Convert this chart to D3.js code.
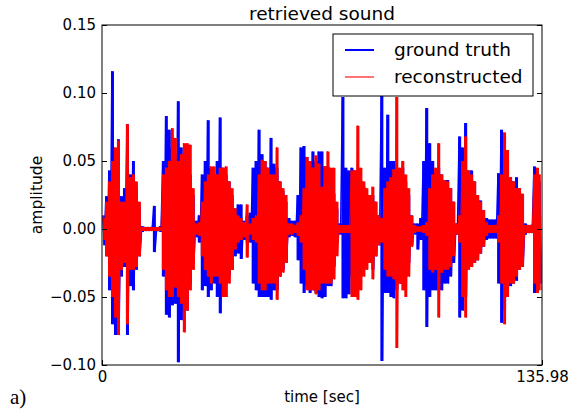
<!DOCTYPE html>
<html><head><meta charset="utf-8">
<script src="https://cdn.jsdelivr.net/npm/d3@7"></script>
<style>body{margin:0;background:#fff}svg{display:block}</style>
</head><body>
<script>
const duration = 135.98;
const yTicks = [-0.10, -0.05, 0.00, 0.05, 0.10, 0.15];
const xTicks = [0, 135.98];
const xTickLabels = ["0", "135.98"];
const seriesNames = ["ground truth", "reconstructed"];

// per-bin upper / lower extremes of each waveform (amplitude)
const truthHi = [.010,.024,.043,.116,.055,.066,.024,.030,.077,.040,.050,.030,.017,.002,.0015,.0015,.0015,.017,.0015,.002,
.050,.083,.073,.060,.055,.094,.060,.050,.055,.040,.025,.006,.010,.040,.050,.080,.045,.040,.050,.082,
.045,.040,.035,.025,.015,.018,.018,.006,.010,.012,.045,.050,.073,.055,.050,.045,.067,.048,.045,.035,
.028,.020,.008,.006,.006,.025,.060,.061,.053,.050,.057,.050,.057,.057,.046,.046,.040,.026,.015,.004,
.097,.045,.043,.045,.043,.040,.035,.031,.025,.020,.025,.020,.010,.098,.045,.084,.050,.050,.045,.040,
.045,.035,.025,.010,.004,.004,.008,.050,.089,.063,.050,.041,.045,.040,.036,.036,.030,.020,.004,.068,
.060,.078,.043,.043,.035,.025,.021,.014,.008,.007,.007,.007,.041,.073,.055,.050,.038,.035,.038,.030,
.025,.004,.003,.003,.046,.040,.035];
const truthLo = [-.012,-.020,-.045,-.070,-.078,-.078,-.035,-.028,-.078,-.042,-.045,-.030,-.020,-.002,-.0015,-.0015,-.0015,-.017,-.0015,-.002,
-.035,-.063,-.065,-.056,-.055,-.098,-.067,-.060,-.060,-.040,-.025,-.006,-.010,-.045,-.042,-.050,-.045,-.040,-.050,-.062,
-.045,-.040,-.035,-.030,-.020,-.018,-.022,-.008,-.010,-.010,-.040,-.045,-.050,-.050,-.050,-.050,-.052,-.045,-.045,-.035,
-.030,-.025,-.006,-.005,-.006,-.023,-.040,-.047,-.042,-.047,-.045,-.047,-.050,-.051,-.050,-.042,-.042,-.028,-.010,-.004,
-.051,-.051,-.048,-.035,-.035,-.035,-.030,-.030,-.025,-.020,-.030,-.020,-.012,-.097,-.047,-.047,-.050,-.051,-.045,-.040,
-.040,-.035,-.025,-.012,-.004,-.015,-.008,-.045,-.072,-.050,-.045,-.045,-.045,-.045,-.040,-.040,-.035,-.025,-.004,-.065,
-.060,-.050,-.028,-.028,-.025,-.023,-.018,-.013,-.008,-.007,-.007,-.007,-.040,-.069,-.060,-.045,-.042,-.040,-.038,-.030,
-.028,-.004,-.003,-.003,-.047,-.045,-.040];
const reconHi = [.008,.020,.035,.050,.060,.065,.020,.020,.077,.038,.040,.035,.020,.0015,.0015,.0015,.0015,.0015,.0015,.0015,
.040,.045,.050,.074,.067,.050,.055,.063,.063,.062,.030,.004,.005,.020,.035,.040,.046,.046,.040,.045,
.045,.046,.035,.030,.015,.010,.008,.005,.018,.004,.008,.010,.040,.051,.050,.045,.040,.040,.060,.035,
.030,.025,.004,.004,.003,.005,.010,.030,.053,.050,.045,.054,.048,.031,.046,.057,.045,.045,.020,.003,
.003,.003,.003,.043,.043,.076,.045,.035,.030,.025,.031,.020,.010,.008,.030,.035,.038,.044,.097,.045,
.050,.040,.030,.010,.003,.002,.002,.003,.005,.030,.040,.045,.063,.040,.036,.035,.030,.020,.004,.010,
.050,.068,.043,.040,.035,.025,.020,.014,.005,.003,.003,.003,.010,.040,.071,.058,.038,.035,.030,.030,
.026,.003,.003,.003,.040,.045,.040];
const reconLo = [-.008,-.020,-.035,-.050,-.065,-.078,-.030,-.025,-.070,-.030,-.030,-.028,-.020,-.0015,-.0015,-.0015,-.0015,-.0015,-.0015,-.0015,
-.030,-.045,-.050,-.050,-.043,-.050,-.055,-.076,-.060,-.045,-.030,-.004,-.005,-.020,-.030,-.035,-.040,-.035,-.035,-.040,
-.050,-.050,-.040,-.030,-.015,-.010,-.008,-.006,-.021,-.004,-.008,-.010,-.040,-.045,-.045,-.040,-.040,-.040,-.052,-.035,
-.032,-.025,-.004,-.004,-.003,-.005,-.010,-.030,-.045,-.045,-.045,-.048,-.045,-.040,-.040,-.040,-.040,-.037,-.020,-.003,
-.003,-.003,-.003,-.050,-.050,-.052,-.045,-.035,-.030,-.025,-.037,-.020,-.012,-.010,-.030,-.035,-.035,-.037,-.0875,-.040,
-.045,-.050,-.035,-.013,-.003,-.002,-.002,-.003,-.005,-.030,-.032,-.030,-.065,-.032,-.030,-.030,-.028,-.020,-.004,-.010,
-.050,-.065,-.030,-.028,-.025,-.023,-.018,-.013,-.005,-.003,-.003,-.003,-.010,-.040,-.070,-.050,-.040,-.040,-.035,-.030,
-.028,-.003,-.003,-.003,-.040,-.047,-.045];

const W = 574, H = 411;
const L = 102, R = 542, T = 25, B = 365;
const FONT = "DejaVu Sans, sans-serif";

const svg = d3.select("body").append("svg").attr("width", W).attr("height", H);
svg.append("rect").attr("width", W).attr("height", H).attr("fill", "#fff");

const x = d3.scaleLinear().domain([0, duration]).range([L, R]);
const y = d3.scaleLinear().domain([-0.10, 0.15]).range([B, T]);

svg.append("clipPath").attr("id", "clip").append("rect")
  .attr("x", L).attr("y", T).attr("width", R - L).attr("height", B - T);

// each bin: upper/lower extreme placed on the bin grid
function bins(hi, lo) {
  const step = duration / hi.length;
  return hi.map((h, i) => ({ t: (i + 0.5) * step, hi: h, lo: lo[i] }));
}
function zigzag(hi, lo) {
  const step = duration / hi.length;
  const pts = [];
  hi.forEach((h, i) => { pts.push([(i + 0.3) * step, h]); pts.push([(i + 0.7) * step, lo[i]]); });
  return pts;
}
const area = d3.area().curve(d3.curveStep).x(d => x(d.t)).y0(d => y(d.lo)).y1(d => y(d.hi));
const line = d3.line().x(d => x(d[0])).y(d => y(d[1]));

const plot = svg.append("g").attr("clip-path", "url(#clip)");
function drawSeries(hi, lo, col, sw) {
  plot.append("path").datum(bins(hi, lo)).attr("d", area).attr("fill", col).attr("stroke", "none");
  plot.append("path").datum(zigzag(hi, lo)).attr("d", line)
    .attr("fill", "none").attr("stroke", col).attr("stroke-width", sw).attr("stroke-linejoin", "bevel");
}
drawSeries(truthHi, truthLo, "#0000ff", 1.5);
drawSeries(reconHi, reconLo, "#ff0000", 1);

// axes
const fmt = d3.format(".2f");
const gl = svg.append("g").attr("transform", `translate(${L},0)`)
  .call(d3.axisLeft(y).tickValues(yTicks).tickFormat(fmt).tickSize(-5).tickSizeOuter(0).tickPadding(6));
const gr = svg.append("g").attr("transform", `translate(${R},0)`)
  .call(d3.axisRight(y).tickValues(yTicks).tickFormat("").tickSize(-5).tickSizeOuter(0));
const gb = svg.append("g").attr("transform", `translate(0,${B})`)
  .call(d3.axisBottom(x).tickValues(xTicks).tickFormat((d, i) => xTickLabels[i]).tickSize(-5).tickSizeOuter(0).tickPadding(6));
[gl, gr, gb].forEach(g => {
  g.select(".domain").remove();
  g.selectAll("text").attr("font-family", FONT).attr("font-size", 15).attr("fill", "#000");
  g.selectAll("line").attr("stroke", "#000");
});

svg.append("rect").attr("x", L).attr("y", T).attr("width", R - L).attr("height", B - T)
  .attr("fill", "none").attr("stroke", "#000").attr("stroke-width", 1);

// title & labels
svg.append("text").attr("x", (L + R) / 2).attr("y", 20).attr("text-anchor", "middle")
  .attr("font-family", FONT).attr("font-size", 18.5).text("retrieved sound");
svg.append("text").attr("x", (L + R) / 2).attr("y", 402).attr("text-anchor", "middle")
  .attr("font-family", FONT).attr("font-size", 15).text("time [sec]");
svg.append("text").attr("transform", `translate(42,${(T + B) / 2}) rotate(-90)`).attr("text-anchor", "middle")
  .attr("font-family", FONT).attr("font-size", 15.5).text("amplitude");
svg.append("text").attr("x", 10).attr("y", 404)
  .attr("font-family", "Liberation Serif, serif").attr("font-size", 21).text("a)");

// legend
const lg = svg.append("g");
lg.append("rect").attr("x", 333).attr("y", 34).attr("width", 200).attr("height", 62)
  .attr("fill", "#fff").attr("stroke", "#000").attr("stroke-width", 1);
const lcol = ["#0000ff", "#ff0000"], lw = [2, 1.1], ly = [50, 77];
seriesNames.forEach((n, i) => {
  lg.append("line").attr("x1", 345).attr("x2", 374).attr("y1", ly[i]).attr("y2", ly[i])
    .attr("stroke", lcol[i]).attr("stroke-width", lw[i]);
  lg.append("text").attr("x", 394).attr("y", ly[i]).attr("dy", "0.35em")
    .attr("font-family", FONT).attr("font-size", 18.5).text(n);
});
</script>
</body></html>
